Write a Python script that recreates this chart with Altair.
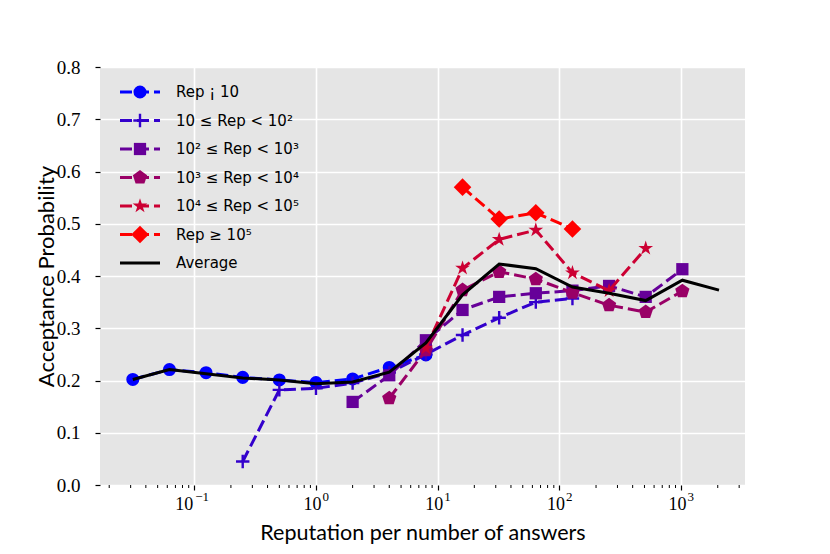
import altair as alt
import pandas as pd

# x positions (reputation per number of answers), powers of two 1/32 .. 2048
XS = [2.0 ** k for k in range(-5, 12)]

# series values; each list starts at XS[start]
rep_lt_1e1 = [0.202, 0.221, 0.215, 0.206, 0.201, 0.196, 0.203, 0.225, 0.249]
rep_1e1_1e2 = [0.045, 0.182, 0.185, 0.195, 0.215, 0.250, 0.287, 0.320, 0.350, 0.357]
rep_1e2_1e3 = [0.159, 0.210, 0.277, 0.335, 0.360, 0.367, 0.372, 0.381, 0.360, 0.413]
rep_1e3_1e4 = [0.166, 0.258, 0.373, 0.408, 0.394, 0.368, 0.344, 0.331, 0.371]
rep_1e4_1e5 = [0.262, 0.415, 0.470, 0.488, 0.406, 0.372, 0.453]
rep_ge_1e5 = [0.570, 0.509, 0.521, 0.490]
average = [0.202, 0.221, 0.213, 0.205, 0.201, 0.194, 0.197, 0.216, 0.272,
           0.364, 0.423, 0.414, 0.379, 0.367, 0.353, 0.392, 0.373]

series_values = [rep_lt_1e1, rep_1e1_1e2, rep_1e2_1e3, rep_1e3_1e4, rep_1e4_1e5, rep_ge_1e5]
series_start = [0, 3, 6, 7, 8, 9]
series_labels = ["Rep ¡ 10", "10 ≤ Rep < 10²", "10² ≤ Rep < 10³",
                 "10³ ≤ Rep < 10⁴", "10⁴ ≤ Rep < 10⁵", "Rep ≥ 10⁵"]
series_colors = ["#0000ff", "#3300cc", "#660099", "#990066", "#cc0033", "#ff0000"]
average_label = "Average"

PLUS = "M-1,0L1,0M0,-1L0,1"
PENTAGON = "M0,-1L0.951,-0.309L0.588,0.809L-0.588,0.809L-0.951,-0.309Z"
STAR = ("M0,-1L0.2245,-0.309L0.951,-0.309L0.363,0.118L0.588,0.809L0,0.382"
        "L-0.588,0.809L-0.363,0.118L-0.951,-0.309L-0.2245,-0.309Z")
series_shapes = ["circle", PLUS, "square", PENTAGON, STAR, "diamond"]
series_sizes = [170, 180, 150, 225, 240, 310]
series_filled = [True, False, True, True, True, True]

# x tick labels: base and exponent
XTICKS = [0.1, 1, 10, 100, 1000]
XTICK_BASE = ["10", "10", "10", "10", "10"]
XTICK_EXP = ["−1", "0", "1", "2", "3"]
MINOR = [k * 10.0 ** d for d in range(-2, 4) for k in range(2, 10)
         if 0.017 <= k * 10.0 ** d <= 3300]
YTICKS = [0.0, 0.1, 0.2, 0.3, 0.4, 0.5, 0.6, 0.7, 0.8]

W, H = 645, 418
DASH = [12, 5]
LW = 3
SANS = "Lato"
SERIF = "Liberation Serif"

xaxis = alt.Axis(values=XTICKS, labels=False, grid=True, gridColor="white",
                 gridWidth=1.6, ticks=True, tickColor="black", tickSize=5, tickWidth=1.2,
                 domain=False,
                 title="Reputation per number of answers", titleFont=SANS,
                 titleFontSize=21.5, titleFontWeight="normal", titleColor="black",
                 titleY=54, titleBaseline="alphabetic")
yaxis = alt.Axis(values=YTICKS, format=".1f", grid=True, gridColor="white", gridWidth=1.6,
                 ticks=True, tickColor="black", tickSize=5, tickWidth=1.2, domain=False,
                 labelFont=SERIF, labelFontSize=19, labelColor="black",
                 labelPadding=15, labelFlush=False, labelOverlap=False,
                 title="Acceptance Probability", titleFont=SANS, titleFontSize=22,
                 titleFontWeight="normal", titleColor="black", titleX=-47, titleY=209,
                 titleBaseline="alphabetic")

X = alt.X("x:Q", scale=alt.Scale(type="log", domain=[0.0168, 3350], nice=False), axis=xaxis)
Y = alt.Y("y:Q", scale=alt.Scale(domain=[0, 0.8], nice=False, zero=False), axis=yaxis)

layers = []
for vals, st, col, shp, sz, fl in zip(series_values, series_start, series_colors,
                                      series_shapes, series_sizes, series_filled):
    df = pd.DataFrame({"x": XS[st:st + len(vals)], "y": vals})
    base = alt.Chart(df)
    layers.append(base.mark_line(color=col, strokeWidth=LW, strokeDash=DASH).encode(x=X, y=Y))
    if fl:
        pts = base.mark_point(shape=shp, filled=True, color=col, size=sz, opacity=1,
                              strokeWidth=1)
    else:
        pts = base.mark_point(shape=shp, filled=False, color=col, size=sz, opacity=1,
                              strokeWidth=2.4)
    layers.append(pts.encode(x=X, y=Y))

avg_df = pd.DataFrame({"x": XS[:len(average)], "y": average})
layers.append(alt.Chart(avg_df).mark_line(color="black", strokeWidth=LW).encode(x=X, y=Y))

# minor ticks of the log axis
minor_df = pd.DataFrame({"x": MINOR})
layers.append(alt.Chart(minor_df).mark_rule(color="black", strokeWidth=1).encode(
    x=X, y=alt.value(H), y2=alt.value(H + 3)))

# x tick labels as base + superscript exponent
tick_df = pd.DataFrame({"x": XTICKS, "base": XTICK_BASE, "exp": XTICK_EXP,
                        "neg": [e.startswith("−") for e in XTICK_EXP]})
tk = alt.Chart(tick_df)
for neg, bdx, edx in [(False, 5.5, 6.5), (True, -1, 1)]:
    cond = "datum.neg" if neg else "!datum.neg"
    layers.append(tk.transform_filter(cond).mark_text(
        align="right", baseline="alphabetic", font=SERIF, fontSize=18, color="black",
        dx=bdx).encode(x=X, y=alt.value(H + 25), text="base:N"))
    layers.append(tk.transform_filter(cond).mark_text(
        align="left", baseline="alphabetic", font=SERIF, fontSize=13, color="black",
        dx=edx).encode(x=X, y=alt.value(H + 16), text="exp:N"))

# legend
leg_df = pd.DataFrame({
    "row": list(range(7)),
    "label": series_labels + [average_label],
    "col": series_colors + ["black"],
    "shape": series_shapes + ["circle"],
    "size": series_sizes + [0],
    "kind": ["f", "p", "f", "f", "f", "f", "a"],
})
leg = alt.Chart(leg_df).transform_calculate(py="25 + 28.5 * datum.row")
LY = alt.Y("py:Q", scale=None, axis=None)
LC = alt.Color("col:N", scale=None, legend=None)
layers.append(leg.transform_filter("datum.kind != 'a'").mark_rule(
    strokeWidth=LW, strokeDash=DASH).encode(x=alt.value(20), x2=alt.value(60), y=LY, color=LC))
layers.append(leg.transform_filter("datum.kind == 'a'").mark_rule(
    strokeWidth=LW).encode(x=alt.value(20), x2=alt.value(60), y=LY, color=LC))
layers.append(leg.transform_filter("datum.kind == 'f'").mark_point(
    filled=True, opacity=1, strokeWidth=1).encode(
    x=alt.value(40), y=LY, color=LC,
    shape=alt.Shape("shape:N", scale=None, legend=None),
    size=alt.Size("size:Q", scale=None, legend=None)))
layers.append(leg.transform_filter("datum.kind == 'p'").mark_point(
    filled=False, opacity=1, strokeWidth=2.4).encode(
    x=alt.value(40), y=LY, color=LC,
    shape=alt.Shape("shape:N", scale=None, legend=None),
    size=alt.Size("size:Q", scale=None, legend=None)))
layers.append(leg.mark_text(align="left", baseline="middle", font="DejaVu Sans", fontSize=15,
                            color="black").encode(x=alt.value(76), y=LY, text="label:N"))

chart = alt.layer(*layers).properties(
    width=W, height=H,
    autosize=alt.AutoSizeParams(type="none"),
    padding={"left": 92, "top": 59, "right": 70, "bottom": 60},
    background="white",
).configure_view(fill="#E5E5E5", strokeWidth=0)

chart.save("out.html", embed_options={"renderer": "svg", "actions": False})
